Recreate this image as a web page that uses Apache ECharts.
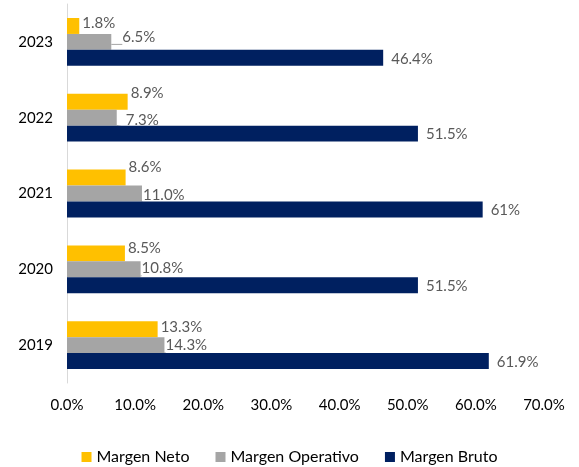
<!DOCTYPE html>
<html>
<head>
<meta charset="utf-8">
<script src="https://cdn.jsdelivr.net/npm/echarts@6/dist/echarts.min.js"></script>
<style>
  html, body { margin: 0; padding: 0; background: #fff; }
  #chart { width: 579px; height: 467px; }
</style>
</head>
<body>
<div id="chart"></div>
<script>
const years = ["2019", "2020", "2021", "2022", "2023"];
const margenNeto = [13.3, 8.5, 8.6, 8.9, 1.8];
const margenOperativo = [14.3, 10.8, 11.0, 7.3, 6.5];
const margenBruto = [61.9, 51.5, 61, 51.5, 46.4];
const brutoLabels = ["61.9%", "51.5%", "61%", "51.5%", "46.4%"];
const xTicks = [0, 10, 20, 30, 40, 50, 60, 70];

// label nudges as placed in the original sheet
const netoLabelOffset = [[0, -2], [0, -5], [0, -10], [0, -9], [0, -3]];
const operLabelOffset = [[0, 0], [0, -1], [0, 2], [8, 2], [10, -5]];

const font = "Lato, 'Noto Sans', sans-serif";
const labelStyle = {
  show: true,
  position: "right",
  color: "#595959",
  fontSize: 15,
  fontFamily: font,
  distance: 3,
};

const chart = echarts.init(document.getElementById("chart"));
chart.setOption({
  animation: false,
  grid: { left: 67, right: 35, top: 4, bottom: 84 },
  legend: {
    bottom: -3,
    left: "center",
    itemWidth: 10,
    itemHeight: 10,
    itemGap: 26,
    icon: "rect",
    textStyle: { color: "#000", fontSize: 16, fontFamily: font },
    data: ["Margen Neto", "Margen Operativo", "Margen Bruto"],
  },
  xAxis: {
    type: "value",
    min: xTicks[0],
    max: xTicks[xTicks.length - 1],
    interval: 10,
    axisLine: { show: false },
    axisTick: { show: false },
    splitLine: { show: false },
    axisLabel: {
      color: "#000",
      fontSize: 15,
      fontFamily: font,
      margin: 15,
      formatter: (v) => v.toFixed(1) + "%",
    },
  },
  yAxis: {
    type: "category",
    data: years,
    axisLine: { show: true, lineStyle: { color: "#d9d9d9", width: 1 } },
    axisTick: { show: false },
    axisLabel: { color: "#000", fontSize: 15, fontFamily: font, margin: 14 },
  },
  series: [
    {
      name: "Margen Neto",
      type: "bar",
      barGap: "0%",
      barCategoryGap: "37%",
      itemStyle: { color: "#ffc000" },
      label: { ...labelStyle, formatter: (p) => p.value.toFixed(1) + "%" },
      data: margenNeto.map((v, i) => ({ value: v, label: { offset: netoLabelOffset[i] } })),
    },
    {
      name: "Margen Operativo",
      type: "bar",
      itemStyle: { color: "#a5a5a5" },
      label: { ...labelStyle, distance: 1, formatter: (p) => p.value.toFixed(1) + "%" },
      labelLine: { show: true, length2: 0, lineStyle: { color: "#a5a5a5", width: 1 } },
      data: margenOperativo.map((v, i) => ({ value: v, label: { offset: operLabelOffset[i] } })),
    },
    {
      name: "Margen Bruto",
      type: "bar",
      itemStyle: { color: "#002060" },
      label: { ...labelStyle, distance: 8, offset: [0, 1], formatter: (p) => brutoLabels[p.dataIndex] },
      data: margenBruto,
    },
  ],
});
</script>
</body>
</html>
